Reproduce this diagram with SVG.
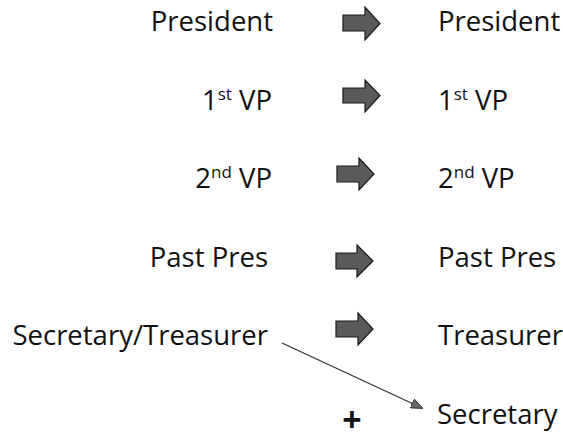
<svg xmlns="http://www.w3.org/2000/svg" width="563" height="439" viewBox="0 0 563 439">
<style>
text{font-family:"Open Sans","Noto Sans",sans-serif;font-size:27.5px;fill:#111}
.l{text-anchor:end}
.sup{font-size:17px}
.blk{fill:#5a5a5a;stroke:#1a1a1a;stroke-width:1.2}
</style>
<defs>
<marker id="ah" markerWidth="12" markerHeight="10" refX="11" refY="5" orient="auto" markerUnits="userSpaceOnUse">
<path d="M0,0 L12,5 L0,10 Z" fill="#666" stroke="#222" stroke-width="0.8"/>
</marker>
</defs>
<g id="old">
<g id="old-president"><text class="l" x="273" y="31">President</text></g>
<g id="old-vp1"><text class="l" x="272" y="110">1<tspan class="sup" dy="-10">st</tspan><tspan dy="10"> VP</tspan></text></g>
<g id="old-vp2"><text class="l" x="272" y="188">2<tspan class="sup" dy="-10">nd</tspan><tspan dy="10"> VP</tspan></text></g>
<g id="old-past"><text class="l" x="268" y="267">Past Pres</text></g>
<g id="old-sectreas"><text class="l" x="268" y="345">Secretary/Treasurer</text></g>
</g>
<g id="new">
<g id="new-president"><text x="438" y="31">President</text></g>
<g id="new-vp1"><text x="438" y="110">1<tspan class="sup" dy="-10">st</tspan><tspan dy="10"> VP</tspan></text></g>
<g id="new-vp2"><text x="438" y="188">2<tspan class="sup" dy="-10">nd</tspan><tspan dy="10"> VP</tspan></text></g>
<g id="new-past"><text x="438" y="267">Past Pres</text></g>
<g id="new-treas"><text x="438" y="345">Treasurer</text></g>
<g id="new-sec"><text x="437" y="424">Secretary</text></g>
</g>
<g id="plus"><text x="352" y="431" text-anchor="middle" style="font-family:'Liberation Sans',Arial,sans-serif;font-weight:bold;font-size:33px">+</text></g>
<g id="connectors">
<path class="blk" d="M343,15 H365 V7 L380,23.5 L365,40 V31 H343 Z"/>
<path class="blk" d="M343,88 H365 V80 L380,95.5 L365,112 V103 H343 Z"/>
<path class="blk" d="M337,166 H359 V158 L374,174 L359,190 V182 H337 Z"/>
<path class="blk" d="M336,253 H357 V245 L373,261 L357,277 V269 H336 Z"/>
<path class="blk" d="M336,321 H358 V313 L373,329 L358,345 V337 H336 Z"/>
<line x1="282" y1="343" x2="422" y2="408" stroke="#333" stroke-width="1.3" marker-end="url(#ah)"/>
</g>
</svg>
